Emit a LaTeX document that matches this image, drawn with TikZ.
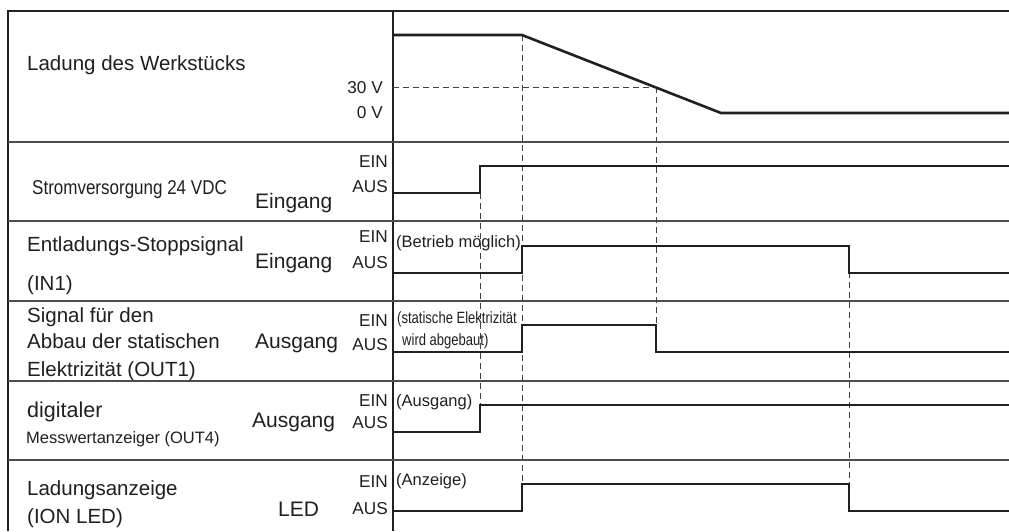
\documentclass[tikz,border=0pt]{standalone}
\usepackage{fontspec}
\setmainfont{Liberation Sans}
\newfontfamily\narrowfont[FakeStretch=0.85]{Liberation Sans}
\newfontfamily\narrowerfont[FakeStretch=0.8]{Liberation Sans}
\definecolor{ink}{HTML}{231F20}
\begin{document}
\begin{tikzpicture}[x=1pt,y=-1pt,
  frame/.style={draw=ink,line width=1.3pt},
  rowsep/.style={draw=ink!80,line width=1.1pt},
  sig/.style={draw=ink,line width=2.6pt,line join=miter},
  guide/.style={draw=ink!85,line width=0.9pt,dash pattern=on 6pt off 4pt},
  lbl/.style={inner sep=0pt,anchor=base west,text=ink,font=\fontsize{20.5}{24}\selectfont},
  io/.style={inner sep=0pt,anchor=base west,text=ink,font=\fontsize{21}{24}\selectfont},
  lvl/.style={inner sep=0pt,anchor=base east,text=ink,font=\fontsize{17.2}{20}\selectfont},
  note/.style={inner sep=0pt,anchor=base west,text=ink,font=\fontsize{16.5}{19}\selectfont},
  notec/.style={inner sep=0pt,anchor=base west,text=ink,font=\narrowerfont\fontsize{16.3}{19}\selectfont},
]
\useasboundingbox (0,0) rectangle (1009,531);
\fill[white] (0,0) rectangle (1009,531);

% frame and grid
\draw[frame] (8,531) -- (8,11) -- (1009,11);
\draw[frame] (393,11) -- (393,531);
\foreach \y in {142,221,301,381,460} \draw[rowsep] (8,\y) -- (1009,\y);

% guide lines (dashed)
\draw[guide] (393,87) -- (656,87);
\draw[guide] (480,193) -- (480,405);
\draw[guide] (522,35) -- (522,483);
\draw[guide] (656,87) -- (656,325);
\draw[guide] (849,272) -- (849,483);

% signals
\draw[sig] (393,35) -- (522,35) -- (721,113) -- (1009,113);
\draw[sig] (393,193) -- (480,193) -- (480,166) -- (1009,166);
\draw[sig] (393,273) -- (522,273) -- (522,246) -- (849,246) -- (849,273) -- (1009,273);
\draw[sig] (393,352) -- (522,352) -- (522,325) -- (656,325) -- (656,352) -- (1009,352);
\draw[sig] (393,432) -- (480,432) -- (480,405) -- (1009,405);
\draw[sig] (393,511) -- (522,511) -- (522,484) -- (849,484) -- (849,511) -- (1009,511);

% row 1
\node[lbl] (l1) at (27,70) {Ladung des Werkstücks};
\node[lvl] (v30) at (383,93) {30 V};
\node[lvl] (v0) at (383,118) {0 V};

% row 2
\node[inner sep=0pt,anchor=base west,text=ink,font=\narrowfont\fontsize{20}{24}\selectfont] (l2) at (32,194) {Stromversorgung 24 VDC};
\node[io] (io2) at (255,208) {Eingang};
\node[lvl] (e2) at (388,167) {EIN};
\node[lvl] (a2) at (388,192) {AUS};

% row 3
\node[lbl] (l3a) at (27,251) {Entladungs-Stoppsignal};
\node[lbl] (l3b) at (27,290) {(IN1)};
\node[io] (io3) at (255,268) {Eingang};
\node[lvl] (e3) at (388,242) {EIN};
\node[lvl] (a3) at (388,268) {AUS};
\node[note] (n3) at (396,247) {(Betrieb möglich)};

% row 4
\node[lbl] (l4a) at (27,322) {Signal für den};
\node[lbl] (l4b) at (27,348) {Abbau der statischen};
\node[lbl] (l4c) at (27,376) {Elektrizität (OUT1)};
\node[io] (io4) at (255,348) {Ausgang};
\node[lvl] (e4) at (388,326) {EIN};
\node[lvl] (a4) at (388,350) {AUS};
\node[notec] (n4a) at (397,323) {(statische Elektrizität};
\node[notec] (n4b) at (402,345) {wird abgebaut)};

% row 5
\node[inner sep=0pt,anchor=base west,text=ink,font=\fontsize{21.5}{24}\selectfont] (l5a) at (27,417) {digitaler};
\node[inner sep=0pt,anchor=base west,text=ink,font=\fontsize{16.5}{19}\selectfont] (l5b) at (26,443) {Messwertanzeiger (OUT4)};
\node[io] (io5) at (252,427) {Ausgang};
\node[lvl] (e5) at (388,406) {EIN};
\node[lvl] (a5) at (388,428) {AUS};
\node[note] (n5) at (396,406) {(Ausgang)};

% row 6
\node[lbl] (l6a) at (27,495) {Ladungsanzeige};
\node[lbl] (l6b) at (27,523) {(ION LED)};
\node[io] (io6) at (278,516) {LED};
\node[lvl] (e6) at (388,487) {EIN};
\node[lvl] (a6) at (388,514) {AUS};
\node[note] (n6) at (396,485) {(Anzeige)};
\end{tikzpicture}
\end{document}
